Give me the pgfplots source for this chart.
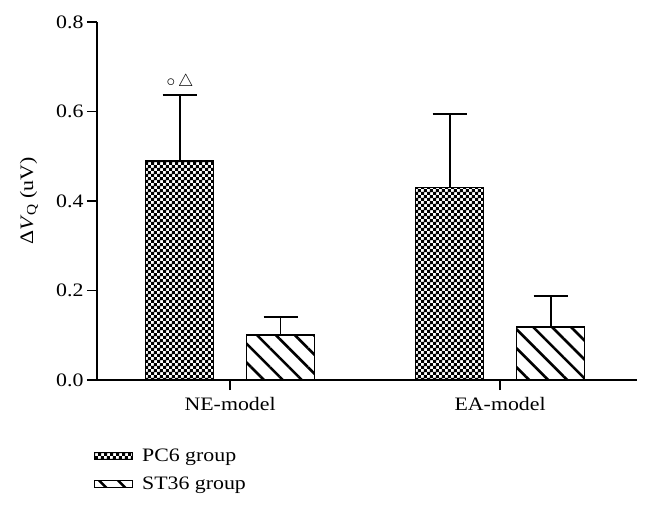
\documentclass[border=0pt]{standalone}
\usepackage{fontspec}
\setmainfont{Liberation Serif}[FakeStretch=1.15]
\usepackage{pgfplots}
\pgfplotsset{compat=1.18}
\usetikzlibrary{patterns,patterns.meta}

% small checkerboard for the PC6 bars
\pgfdeclarepatternformonly{checker}{\pgfpointorigin}{\pgfpoint{5.8pt}{5.8pt}}{\pgfpoint{5.8pt}{5.8pt}}{%
  \pgfpathrectangle{\pgfpointorigin}{\pgfpoint{3.2pt}{3.2pt}}%
  \pgfpathrectangle{\pgfpoint{2.9pt}{2.9pt}}{\pgfpoint{3.2pt}{3.2pt}}%
  \pgfusepath{fill}}

\pgfplotsset{
  patchlegend/.style={legend image code/.code={%
    \draw[##1, line width=1.2pt] (0pt,-3.5pt) rectangle (38pt,3.5pt);
    \path (45pt,0pt);}},
  bars/.style={ybar, bar width=0.252, bar shift=0, draw=black, line width=1.6pt,
    error bars/y dir=plus, error bars/y explicit,
    error bars/error bar style={line width=1.8pt, black},
    error bars/error mark options={rotate=90, line width=1.8pt, mark size=17pt, black}},
}

\begin{document}
\begin{tikzpicture}
\useasboundingbox (-97pt,-134pt) rectangle (554pt,380pt);
\begin{axis}[
  at={(0,0)}, anchor=south west,
  scale only axis, width=540pt, height=358pt,
  font=\fontsize{19}{22}\selectfont,
  xmin=-0.493, xmax=1.507, ymin=0, ymax=0.8,
  axis x line*=bottom, axis y line*=left,
  axis line style={-, line width=1.5pt},
  xtick={0,1}, xticklabels={NE-model, EA-model},
  xticklabel style={yshift=-4pt},
  ytick={0,0.2,...,0.8},
  yticklabel style={/pgf/number format/.cd, fixed, fixed zerofill, precision=1},
  /pgf/number format/assume math mode=true,
  tick align=outside, major tick length=10pt,
  tick style={line width=1.5pt, black},
  ylabel={Δ\textit{V}\textsubscript{Q} (uV)},
  ylabel style={at={(axis description cs:-0.126,0.5)}, anchor=center},
  legend style={at={(axis description cs:-0.012,-0.18)}, anchor=north west,
    draw=none, fill=none, font=\fontsize{19}{22}\selectfont, row sep=10pt},
  legend cell align=left,
]
% PC6 group: NE-model, EA-model
\addplot[bars, pattern=checker, pattern color=black, patchlegend]
  coordinates {(-0.187,0.489) +- (0,0.148) (0.813,0.430) +- (0,0.164)};
% ST36 group: NE-model, EA-model
\addplot[bars, pattern={Lines[angle=-45,distance=13.4pt,line width=2.6pt]}, pattern color=black, patchlegend]
  coordinates {(0.187,0.100) +- (0,0.041) (1.187,0.118) +- (0,0.069)};
\legend{PC6 group, ST36 group}
\node[font=\fontsize{19}{22}\selectfont] at (axis cs:-0.185,0.666) {$\circ\,\triangle$};
\end{axis}
\end{tikzpicture}
\end{document}
